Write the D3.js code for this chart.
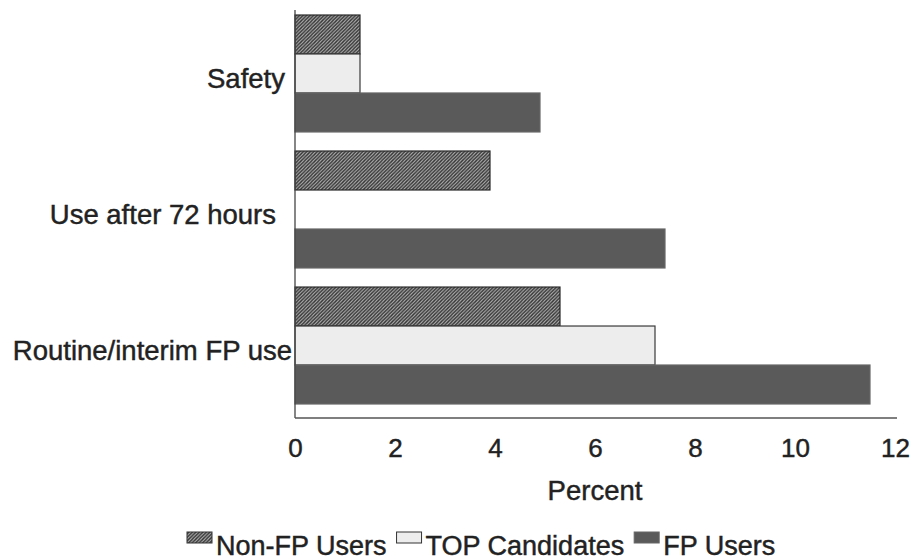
<!DOCTYPE html>
<html>
<head>
<meta charset="utf-8">
<script src="https://cdn.jsdelivr.net/npm/d3@7"></script>
<style>
  html, body { margin: 0; padding: 0; background: #fff; }
  svg { display: block; font-family: "Liberation Sans", Arial, sans-serif; }
  text { stroke: #222; stroke-width: 0.45px; }
</style>
</head>
<body>
<svg id="chart" width="915" height="560"></svg>
<script>
// ---- data ----
const categories = ["Safety", "Use after 72 hours", "Routine/interim FP use"];
const seriesNames = ["Non-FP Users", "TOP Candidates", "FP Users"];
const nonFpUsers = [1.3, 3.9, 5.3];
const topCandidates = [1.3, 0, 7.2];
const fpUsers = [4.9, 7.4, 11.5];
const xTicks = [0, 2, 4, 6, 8, 10, 12];
const xTitle = "Percent";

const seriesValues = [nonFpUsers, topCandidates, fpUsers];

const svg = d3.select("#chart");
const defs = svg.append("defs");
const pat = defs.append("pattern")
  .attr("id", "hatch").attr("patternUnits", "userSpaceOnUse")
  .attr("width", 3.5).attr("height", 3.5);
pat.append("rect").attr("width", 3.5).attr("height", 3.5).attr("fill", "#bdbdbd");
pat.append("path").attr("d", "M-1,1 l2,-2 M0,3.5 l3.5,-3.5 M2.5,4.5 l2,-2")
  .attr("stroke", "#333").attr("stroke-width", 1.4);

const fills = ["url(#hatch)", "#ededed", "#5a5a5a"];
const strokes = ["#2a2a2a", "#3a3a3a", "#666"];

const x = d3.scaleLinear().domain([0, 12]).range([295, 895]);
const y = d3.scaleBand().domain(categories).range([15, 404]).paddingInner(0.14).paddingOuter(0);
const ySub = d3.scaleBand().domain(seriesNames).range([0, y.bandwidth()]);

// bars
categories.forEach((c, ci) => {
  seriesNames.forEach((s, si) => {
    const v = seriesValues[si][ci];
    if (v <= 0) return;
    svg.append("rect")
      .attr("x", x(0))
      .attr("y", y(c) + ySub(s))
      .attr("width", x(v) - x(0))
      .attr("height", ySub.bandwidth())
      .attr("fill", fills[si])
      .attr("stroke", strokes[si])
      .attr("stroke-width", 1.2);
  });
});

// axes lines
svg.append("line").attr("x1", 295).attr("x2", 295).attr("y1", 10).attr("y2", 418)
  .attr("stroke", "#444").attr("stroke-width", 1.3);
svg.append("line").attr("x1", 295).attr("x2", 897).attr("y1", 418).attr("y2", 418)
  .attr("stroke", "#555").attr("stroke-width", 1.3);

// x tick labels via axis
const xAxis = d3.axisBottom(x).tickValues(xTicks).tickSize(0).tickPadding(0).tickFormat(d3.format("d"));
const gx = svg.append("g").attr("transform", "translate(0,448)").call(xAxis);
gx.select(".domain").remove();
gx.selectAll("text").attr("dy", "0.35em").attr("font-size", 26).attr("fill", "#222")
  .style("font-family", "'Liberation Sans', Arial, sans-serif");

// y category labels
const labelDx = [-10, -19, -3];
svg.append("g").selectAll("text").data(categories).join("text")
  .attr("x", (d, i) => 295 + labelDx[i])
  .attr("y", d => y(d) + y.bandwidth() / 2 + 5)
  .attr("dy", "0.35em")
  .attr("text-anchor", "end")
  .attr("font-size", 27.5)
  .attr("fill", "#222")
  .text(d => d);

// x title
svg.append("text").attr("x", 595).attr("y", 490).attr("dy", "0.35em")
  .attr("text-anchor", "middle").attr("font-size", 27.5).attr("fill", "#222").text(xTitle);

// legend
const lg = svg.append("g");
let lx = 187;
seriesNames.forEach((s, i) => {
  lg.append("rect").attr("x", lx).attr("y", 532).attr("width", 25).attr("height", 11)
    .attr("fill", fills[i]).attr("stroke", i === 2 ? "#666" : "#333").attr("stroke-width", 1);
  const t = lg.append("text").attr("x", lx + 29).attr("y", 555)
    .attr("font-size", 27).attr("fill", "#222").text(s);
  lx = lx + 29 + t.node().getComputedTextLength() + 10;
});
</script>
</body>
</html>
